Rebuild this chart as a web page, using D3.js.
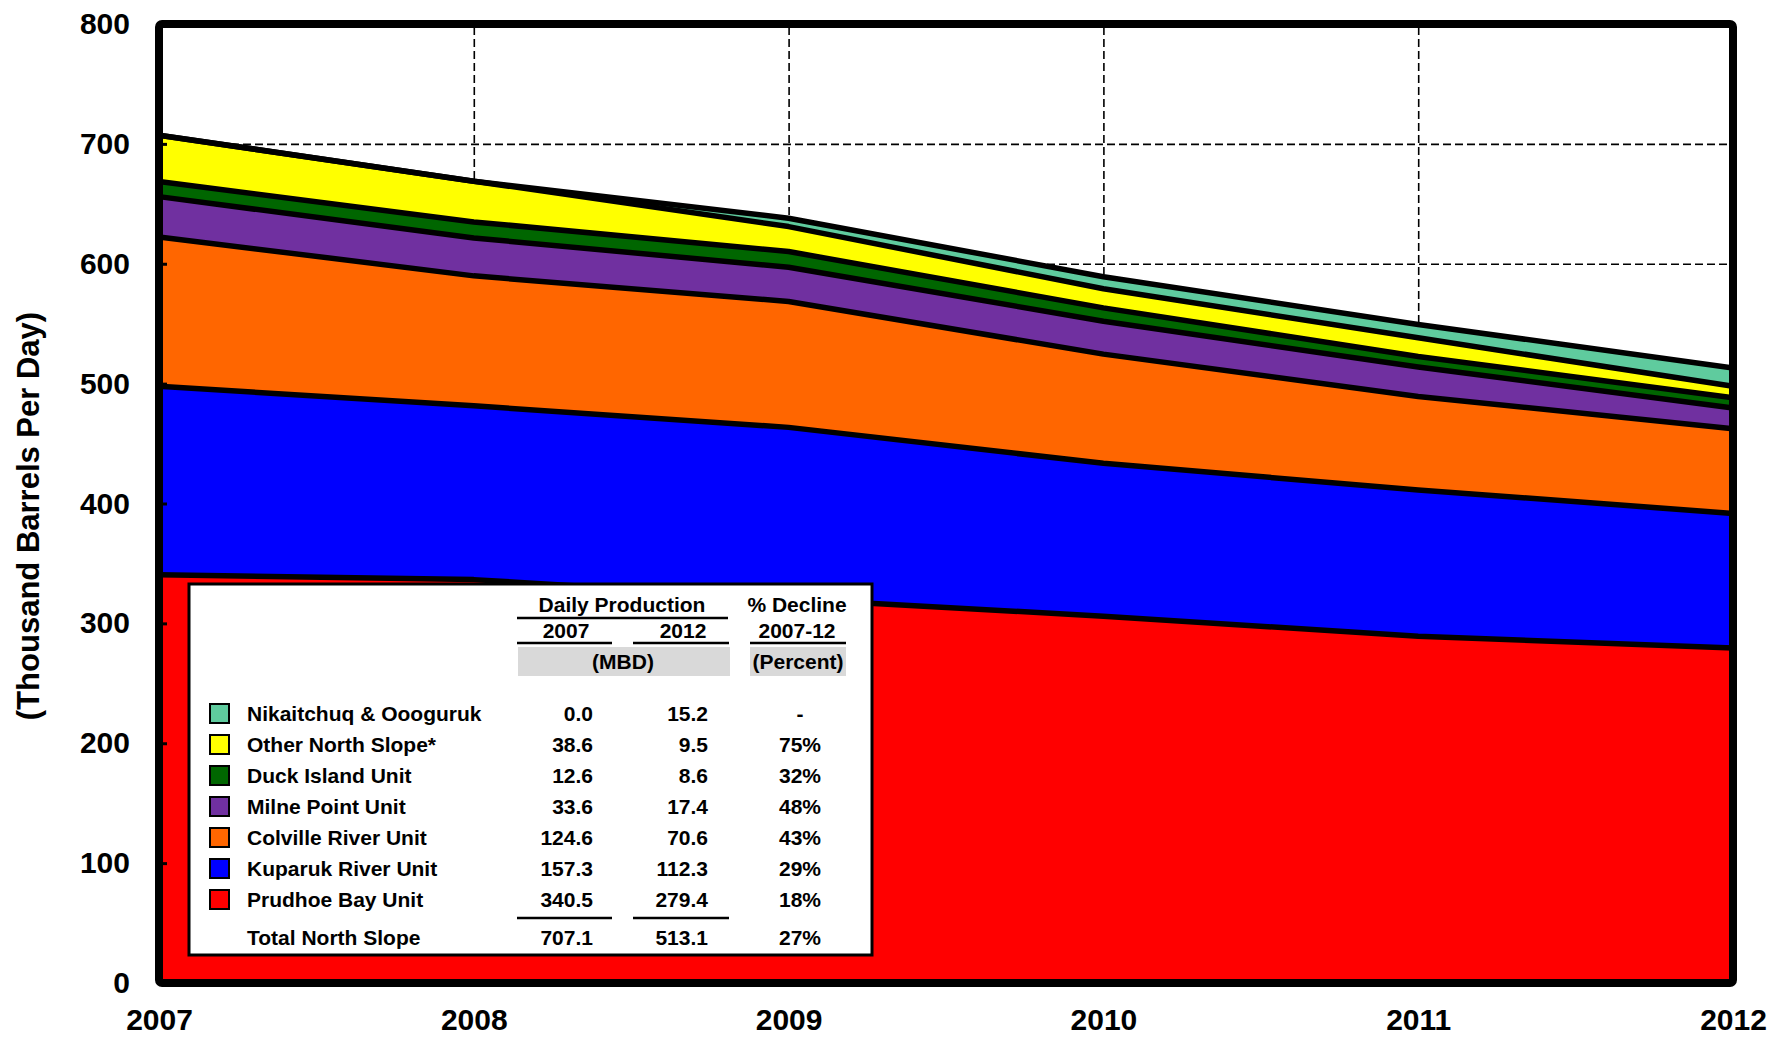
<!DOCTYPE html>
<html>
<head>
<meta charset="utf-8">
<script src="https://cdn.jsdelivr.net/npm/d3@7"></script>
<style>
  html, body { margin: 0; padding: 0; background: #fff; }
  svg { display: block; }
  text { font-family: "Liberation Sans", Arial, Helvetica, sans-serif; font-weight: bold; fill: #000; }
</style>
</head>
<body>
<svg id="chart" width="1777" height="1037"></svg>
<script>
// ---------------- data ----------------
const years = [2007, 2008, 2009, 2010, 2011, 2012];
const prudhoe   = [340.5, 336.5, 320.5, 306.0, 289.3, 279.4];
const kuparuk   = [157.3, 145.0, 143.0, 127.5, 122.0, 112.3];
const colville  = [124.6, 108.4, 105.0,  91.1,  78.0,  70.6];
const milne     = [ 33.6,  31.6,  28.6,  27.5,  24.5,  17.4];
const duck      = [ 12.6,  13.4,  13.1,  11.1,   8.9,   8.6];
const other     = [ 38.6,  34.0,  20.8,  16.0,  15.5,   9.5];
const nikaitchuq= [  0.0,   0.0,   7.0,  10.0,  11.2,  15.2];

const seriesKeys = ["prudhoe", "kuparuk", "colville", "milne", "duck", "other", "nikaitchuq"];
const seriesColors = ["#FF0000", "#0000FF", "#FF6600", "#7030A0", "#006600", "#FFFF00", "#5FCB9E"];

const yTicks = [0, 100, 200, 300, 400, 500, 600, 700, 800];
const yTitle = "(Thousand Barrels Per Day)";

// table (legend) content, top to bottom
const tableNames  = ["Nikaitchuq & Oooguruk", "Other North Slope*", "Duck Island Unit", "Milne Point Unit", "Colville River Unit", "Kuparuk River Unit", "Prudhoe Bay Unit"];
const tableColors = ["#5FCB9E", "#FFFF00", "#006600", "#7030A0", "#FF6600", "#0000FF", "#FF0000"];
const table2007   = ["0.0", "38.6", "12.6", "33.6", "124.6", "157.3", "340.5"];
const table2012   = ["15.2", "9.5", "8.6", "17.4", "70.6", "112.3", "279.4"];
const tableDecline= ["-", "75%", "32%", "48%", "43%", "29%", "18%"];
const totalRow    = ["Total North Slope", "707.1", "513.1", "27%"];

// ---------------- build ----------------
const data = years.map((yr, i) => ({
  year: yr,
  prudhoe: prudhoe[i], kuparuk: kuparuk[i], colville: colville[i],
  milne: milne[i], duck: duck[i], other: other[i], nikaitchuq: nikaitchuq[i]
}));

const svg = d3.select("#chart");
const L = 159, R = 1733, T = 24, B = 983;

const x = d3.scaleLinear().domain([2007, 2012]).range([L, R]);
const y = d3.scaleLinear().domain([0, 800]).range([B, T]);

// grid (dashed)
const grid = svg.append("g");
grid.append("g")
  .attr("transform", `translate(0,${B})`)
  .call(d3.axisBottom(x).tickValues(years.slice(1, -1)).tickSize(-(B - T)).tickFormat(""))
  .call(g => g.select(".domain").remove())
  .call(g => g.selectAll("line").attr("stroke", "#000").attr("stroke-width", 1.6).attr("stroke-dasharray", "8,4"));
grid.append("g")
  .attr("transform", `translate(${L},0)`)
  .call(d3.axisLeft(y).tickValues(yTicks.slice(1, -1)).tickSize(-(R - L)).tickFormat(""))
  .call(g => g.select(".domain").remove())
  .call(g => g.selectAll("line").attr("stroke", "#000").attr("stroke-width", 1.6).attr("stroke-dasharray", "8,4"));

// stacked areas
const stack = d3.stack().keys(seriesKeys);
const layers = stack(data);

const area = d3.area()
  .x(d => x(d.data.year))
  .y0(d => y(d[0]))
  .y1(d => y(d[1]));
const topLine = d3.line()
  .x(d => x(d.data.year))
  .y(d => y(d[1]));

svg.append("g").selectAll("path")
  .data(layers)
  .join("path")
  .attr("d", area)
  .attr("fill", (d, i) => seriesColors[i])
  .attr("stroke", (d, i) => seriesColors[i])
  .attr("stroke-width", 0.5);

svg.append("g").selectAll("path")
  .data(layers)
  .join("path")
  .attr("d", topLine)
  .attr("fill", "none")
  .attr("stroke", "#000")
  .attr("stroke-width", 5.5)
  .attr("stroke-linejoin", "round");

// y axis labels & inner ticks
svg.append("g")
  .attr("transform", `translate(${L},0)`)
  .call(d3.axisLeft(y).tickValues(yTicks).tickSizeInner(-8).tickSizeOuter(0).tickPadding(29).tickFormat(d3.format("d")))
  .call(g => g.select(".domain").remove())
  .call(g => g.selectAll("line").attr("stroke", "#000").attr("stroke-width", 3))
  .call(g => g.selectAll("text").attr("font-size", 30).attr("font-weight", "bold")
    .attr("font-family", "'Liberation Sans', Arial, sans-serif").attr("fill", "#000"));

// x axis labels
svg.append("g")
  .attr("transform", `translate(0,${B})`)
  .call(d3.axisBottom(x).tickValues(years).tickSizeInner(0).tickSizeOuter(0).tickFormat(d3.format("d")))
  .call(g => g.select(".domain").remove())
  .call(g => g.selectAll("text").attr("y", 36).attr("dy", "0.36em").attr("font-size", 30).attr("font-weight", "bold")
    .attr("font-family", "'Liberation Sans', Arial, sans-serif").attr("fill", "#000"));

// y title
svg.append("text")
  .attr("transform", "translate(28,516) rotate(-90)")
  .attr("text-anchor", "middle")
  .attr("dominant-baseline", "central")
  .attr("font-size", 31)
  .text(yTitle);

// ---------------- legend table ----------------
const lg = svg.append("g");
lg.append("rect").attr("x", 189).attr("y", 584).attr("width", 683).attr("height", 371)
  .attr("fill", "#fff").attr("stroke", "#000").attr("stroke-width", 3);

const fs = 21;
const c07 = 593, c12 = 708, cPct = 800, cName = 247;

function txt(xp, yp, s, anchor) {
  lg.append("text").attr("x", xp).attr("y", yp).attr("text-anchor", anchor)
    .attr("font-size", fs).text(s);
}
function hline(x1, x2, yp) {
  lg.append("line").attr("x1", x1).attr("x2", x2).attr("y1", yp).attr("y2", yp)
    .attr("stroke", "#000").attr("stroke-width", 2.5);
}

// headers
txt(622, 612, "Daily Production", "middle");
hline(517, 728, 618);
txt(797, 612, "% Decline", "middle");
txt(566, 638, "2007", "middle");
txt(683, 638, "2012", "middle");
txt(797, 638, "2007-12", "middle");
hline(517, 612, 643);
hline(633, 729, 643);
hline(750, 846, 643);
lg.append("rect").attr("x", 518).attr("y", 647).attr("width", 212).attr("height", 29).attr("fill", "#D9D9D9");
lg.append("rect").attr("x", 750).attr("y", 647).attr("width", 96).attr("height", 29).attr("fill", "#D9D9D9");
txt(623, 669, "(MBD)", "middle");
txt(798, 669, "(Percent)", "middle");

// rows
tableNames.forEach((name, i) => {
  const by = 721 + i * 31;
  lg.append("rect").attr("x", 210).attr("y", by - 17).attr("width", 19).attr("height", 19)
    .attr("fill", tableColors[i]).attr("stroke", "#000").attr("stroke-width", 2);
  txt(cName, by, name, "start");
  txt(c07, by, table2007[i], "end");
  txt(c12, by, table2012[i], "end");
  txt(cPct, by, tableDecline[i], "middle");
});
hline(517, 612, 918);
hline(633, 729, 918);
txt(cName, 945, totalRow[0], "start");
txt(c07, 945, totalRow[1], "end");
txt(c12, 945, totalRow[2], "end");
txt(cPct, 945, totalRow[3], "middle");

// frame
svg.append("rect").attr("x", L).attr("y", T).attr("width", R - L).attr("height", B - T)
  .attr("fill", "none").attr("stroke", "#000").attr("stroke-width", 8).attr("rx", 3);
</script>
</body>
</html>
